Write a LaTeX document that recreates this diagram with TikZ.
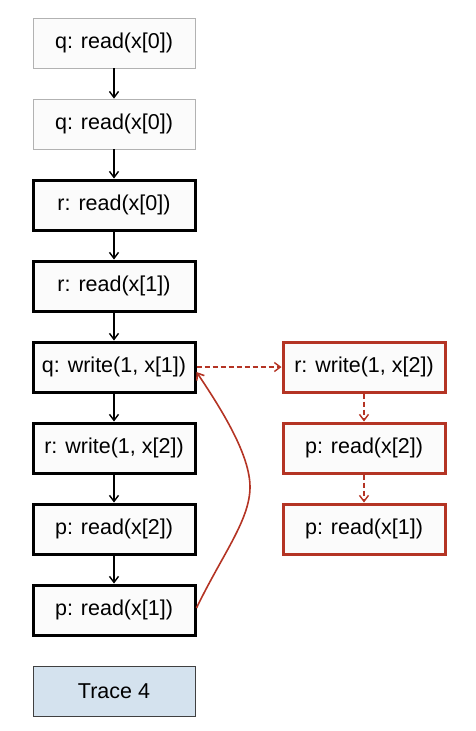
\documentclass[tikz,border=0pt]{standalone}
\usepackage{fontspec}
\setmainfont{Liberation Sans}
\usepackage{xcolor}
\usetikzlibrary{arrows.meta, positioning}

\definecolor{tracered}{RGB}{180,52,36}
\definecolor{faintgray}{RGB}{178,178,178}
\definecolor{boxfill}{RGB}{251,251,251}
\definecolor{tracefill}{RGB}{212,226,238}

\begin{document}
\begin{tikzpicture}[x=1pt, y=-1pt,
		evbox/.style={rectangle, minimum width=162pt, minimum height=50pt, fill=boxfill,
			font=\fontsize{21.5}{26}\selectfont, inner sep=0pt},
		faintbox/.style={evbox, draw=faintgray, line width=0.8pt},
		boldbox/.style={evbox, draw=black, line width=3pt},
		redbox/.style={evbox, draw=tracered, line width=3pt},
		flow/.style={-{Straight Barb[length=6pt, width=9pt]}, line width=1.4pt},
		redflow/.style={flow, tracered, dashed, dash pattern=on 5pt off 3pt}]
				
				\useasboundingbox (0,0) rectangle (475,731);
				
				%% Coluna da esquerda
				\node [faintbox] (q0) at (114,43) {q: read(x[0])};
				\node [faintbox] (q1) at (114,124) {q: read(x[0])};
				\node [boldbox] (r0) at (114,205) {r: read(x[0])};
				\node [boldbox] (r1) at (114,286) {r: read(x[1])};
				\node [boldbox] (qw) at (114,367) {q: write(1, x[1])};
				\node [boldbox] (rw) at (114,448) {r: write(1, x[2])};
				\node [boldbox] (p2) at (114,529) {p: read(x[2])};
				\node [boldbox] (p1) at (114,610) {p: read(x[1])};
				
				%% Legenda
				\node [evbox, fill=tracefill, draw=black!75, line width=0.8pt] (trace) at (114,691) {Trace 4};
				
				%% Coluna da direita
				\node [redbox] (rwb) at (364,367) {r: write(1, x[2])};
				\node [redbox] (p2b) at (364,448) {p: read(x[2])};
				\node [redbox] (p1b) at (364,529) {p: read(x[1])};
				
				%% Setas pretas
				\draw [flow] (q0) -- (q1);
				\draw [flow] (q1) -- (r0);
				\draw [flow] (r0) -- (r1);
				\draw [flow] (r1) -- (qw);
				\draw [flow] (qw) -- (rw);
				\draw [flow] (rw) -- (p2);
				\draw [flow] (p2) -- (p1);
				
				%% Setas vermelhas
				\draw [redflow] (qw) -- (rwb);
				\draw [redflow] (rwb) -- (p2b);
				\draw [redflow] (p2b) -- (p1b);
				
				\coordinate (bend) at (250,487);
				\draw [flow, tracered, line width=1.6pt] ([yshift=2pt]p1.east) .. controls (222,555) and (250,520) .. (bend)
				.. controls (250,455) and (222,410) .. ([yshift=-5pt]qw.east);
				
\end{tikzpicture}
\end{document}
